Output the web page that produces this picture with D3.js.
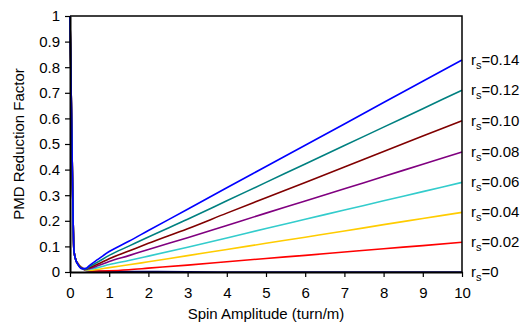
<!DOCTYPE html>
<html>
<head>
<meta charset="utf-8">
<script src="https://cdn.jsdelivr.net/npm/d3@7"></script>
<style>
  html, body { margin: 0; padding: 0; background: #fff; }
  svg { display: block; font-family: "Liberation Sans", Arial, sans-serif; }
</style>
</head>
<body>
<svg id="chart" width="523" height="324"></svg>
<script>
// ---- data ----
const xValues = [0, 0.02, 0.05, 0.08, 0.1, 0.15, 0.2, 0.3, 0.4, 0.5, 0.7, 1, 1.5, 2, 3, 4, 5, 6, 7, 8, 9, 10];
const seriesNames = ["0", "0.02", "0.04", "0.06", "0.08", "0.10", "0.12", "0.14"];
const rs0    = [1, 0.8, 0.5, 0.2, 0.085, 0.047, 0.033, 0.017, 0.006, 0.004, 0.003, 0.003, 0.002, 0.002, 0.001, 0, 0, 0, 0, 0, 0, 0];
const rs002  = [1, 0.8, 0.5, 0.2, 0.085, 0.047, 0.033, 0.018, 0.007, 0.005, 0.004, 0.005, 0.009, 0.015, 0.027, 0.040, 0.053, 0.065, 0.078, 0.091, 0.103, 0.116];
const rs004  = [1, 0.8, 0.5, 0.2, 0.085, 0.047, 0.033, 0.018, 0.008, 0.007, 0.010, 0.017, 0.028, 0.040, 0.064, 0.088, 0.112, 0.136, 0.160, 0.185, 0.209, 0.233];
const rs006  = [1, 0.8, 0.5, 0.2, 0.085, 0.047, 0.032, 0.017, 0.009, 0.011, 0.017, 0.029, 0.045, 0.062, 0.097, 0.133, 0.170, 0.206, 0.242, 0.278, 0.314, 0.350];
const rs008  = [1, 0.8, 0.5, 0.2, 0.085, 0.047, 0.032, 0.016, 0.010, 0.014, 0.024, 0.041, 0.064, 0.088, 0.134, 0.182, 0.230, 0.277, 0.325, 0.373, 0.421, 0.469];
const rs010  = [1, 0.8, 0.5, 0.2, 0.085, 0.046, 0.031, 0.015, 0.011, 0.017, 0.030, 0.052, 0.082, 0.112, 0.169, 0.230, 0.290, 0.350, 0.410, 0.471, 0.531, 0.591];
const rs012  = [1, 0.8, 0.5, 0.2, 0.085, 0.046, 0.030, 0.014, 0.012, 0.021, 0.038, 0.065, 0.101, 0.137, 0.206, 0.278, 0.350, 0.422, 0.494, 0.566, 0.638, 0.710];
const rs014  = [1, 0.8, 0.5, 0.2, 0.085, 0.046, 0.030, 0.013, 0.014, 0.026, 0.048, 0.080, 0.120, 0.162, 0.245, 0.329, 0.412, 0.495, 0.578, 0.662, 0.745, 0.828];
const seriesValues = [rs0, rs002, rs004, rs006, rs008, rs010, rs012, rs014];
const seriesColors = ["#000080", "#ff0000", "#ffcc00", "#33cccc", "#800080", "#800000", "#008080", "#0000ff"];
const xTicks = [0, 1, 2, 3, 4, 5, 6, 7, 8, 9, 10];
const yTicks = [0, 0.1, 0.2, 0.3, 0.4, 0.5, 0.6, 0.7, 0.8, 0.9, 1];

// ---- layout ----
const svg = d3.select("#chart");
const mLeft = 70, mRight = 462, mTop = 16, mBottom = 272;
const fs = 15;

const x = d3.scaleLinear().domain([0, 10]).range([mLeft, mRight]);
const y = d3.scaleLinear().domain([0, 1]).range([mBottom, mTop]);

// series lines (r_s=0 first, 0.14 on top)
const line = d3.line().x((d, i) => x(xValues[i])).y(d => y(d)).curve(d3.curveMonotoneX);
seriesValues.forEach((vals, k) => {
  svg.append("path")
    .attr("d", line(vals))
    .attr("fill", "none")
    .attr("stroke", seriesColors[k])
    .attr("stroke-width", 1.6)
    .attr("stroke-linejoin", "round");
});

// frame (top and right)
svg.append("path")
  .attr("d", `M${mLeft},${mTop}H${mRight}V${mBottom}`)
  .attr("fill", "none").attr("stroke", "#000").attr("stroke-width", 1.5);

// axes
const xAxis = svg.append("g").attr("transform", `translate(0,${mBottom})`)
  .call(d3.axisBottom(x).tickValues(xTicks).tickFormat(d3.format("d")).tickSizeInner(5).tickSizeOuter(0).tickPadding(10));
const yAxis = svg.append("g").attr("transform", `translate(${mLeft},0)`)
  .call(d3.axisLeft(y).tickValues(yTicks).tickFormat(d => d === 0 ? "0" : d === 1 ? "1" : d3.format(".1f")(d)).tickSizeInner(5).tickSizeOuter(0).tickPadding(5));
[xAxis, yAxis].forEach(g => {
  g.select(".domain").attr("stroke", "#000").attr("stroke-width", 2);
  g.selectAll(".tick line").attr("stroke", "#000").attr("stroke-width", 1.2);
  g.selectAll(".tick text").attr("font-size", fs).attr("fill", "#000").attr("font-family", "Liberation Sans, Arial, sans-serif");
});

// axis titles
svg.append("text")
  .attr("x", (mLeft + mRight) / 2).attr("y", 319)
  .attr("text-anchor", "middle").attr("font-size", fs)
  .text("Spin Amplitude (turn/m)");
svg.append("text")
  .attr("transform", `translate(24,${(mTop + mBottom) / 2}) rotate(-90)`)
  .attr("text-anchor", "middle").attr("font-size", fs)
  .text("PMD Reduction Factor");

// right-hand labels
seriesValues.forEach((vals, k) => {
  const t = svg.append("text")
    .attr("x", 471).attr("y", y(vals[vals.length - 1]) + 5)
    .attr("font-size", fs);
  t.append("tspan").text("r");
  t.append("tspan").attr("font-size", 11).attr("dy", 4).text("s");
  t.append("tspan").attr("dy", -4).text("=" + seriesNames[k]);
});
</script>
</body>
</html>
